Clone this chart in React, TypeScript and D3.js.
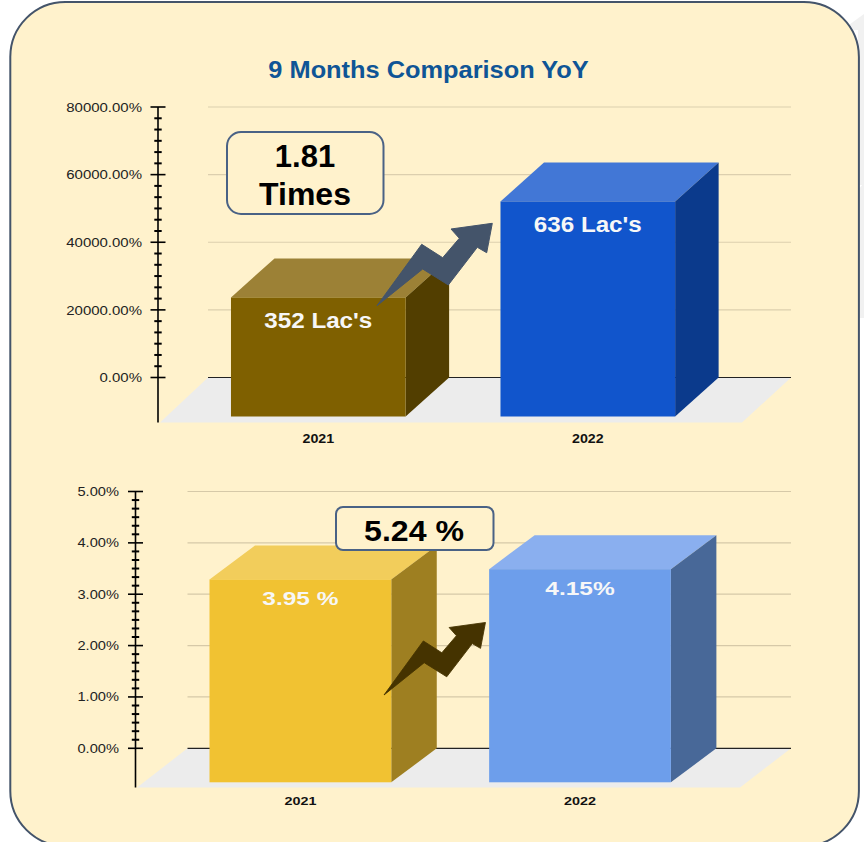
import React from "react";
import * as d3 from "d3";

const FONT = "'Liberation Sans', Arial, sans-serif";

const titleText = "9 Months Comparison YoY";
const categories = ["2021", "2022"];

const amountValues = [35200, 63600];
const amountLabels = ["352 Lac's", "636 Lac's"];
const amountMax = 80000;

const yieldValues = [3.95, 4.15];
const yieldLabels = ["3.95 %", "4.15%"];
const yieldMax = 5;

const amountFront = ["#7f6000", "#1155cc"];
const amountTop = ["#9c8136", "#4277d6"];
const amountSide = ["#523e00", "#0b3a8c"];

const yieldFront = ["#f1c232", "#6d9eeb"];
const yieldTop = ["#f2cd5b", "#8aafef"];
const yieldSide = ["#9e7f21", "#486898"];

// Trend arrow outline, in its own local units (tail at the origin)
const arrowShape: [number, number][] = [
  [0, 0], [44.7, -61.4], [65.7, -48], [82.3, -67.4], [74, -76.7], [115.3, -82.4],
  [109.7, -53], [100.3, -58.4], [71.3, -20.7], [45.7, -36.7],
];

type ChartProps = {
  values: number[]; labels: string[]; max: number;
  front: string[]; top: string[]; side: string[];
  axisX: number; axisBottom: number; zeroY: number; topY: number;
  gridLeft: number; gridRight: number; floorLeft: number; floorRight: number;
  bandLeft: number; bandRight: number; inner: number; depthX: number; depthY: number;
  tickLabelX: number; tickFont: number; tickScale: number; catY: number; catFont: number; catScale: number;
  labelFont: number; labelScale: number; labelOffset: number[]; gridColor: string;
};

function sx(x: number, y: number, scale: number) {
  return { transform: `translate(${x},${y}) scale(${scale},1)` };
}

function makeX(p: ChartProps) {
  return d3.scaleBand<string>().domain(categories).range([p.bandLeft, p.bandRight]).paddingInner(p.inner).paddingOuter(0.25);
}

function Chart3D(p: ChartProps) {
  const y = d3.scaleLinear().domain([0, p.max]).range([p.zeroY, p.topY]);
  const x = makeX(p);
  const majors = y.ticks(p.max === 5 ? 5 : 4);
  const minors: number[] = [];
  majors.slice(0, -1).forEach((m, i) => {
    d3.range(1, 6).forEach((k) => minors.push(m + ((majors[i + 1] - m) * k) / 6));
  });
  const fmt = d3.format(".2f");
  const poly = d3.line();
  return (
    <g>
      {majors.map((m) => m !== 0 && (
        <line key={m} x1={p.gridLeft} x2={p.gridRight} y1={y(m)} y2={y(m)} stroke={p.gridColor} strokeWidth={1.2} />
      ))}
      <path
        d={poly([
          [p.gridLeft, p.zeroY], [p.gridRight, p.zeroY],
          [p.floorRight, p.axisBottom], [p.floorLeft, p.axisBottom],
        ])!}
        fill="#ececec"
      />
      <line x1={p.gridLeft} x2={p.gridRight} y1={p.zeroY} y2={p.zeroY} stroke="#222" strokeWidth={1.2} />
      <line x1={p.axisX} x2={p.axisX} y1={y(p.max)} y2={p.axisBottom} stroke="#000" strokeWidth={1.6} />
      {majors.map((m) => (
        <g key={m}>
          <line x1={p.axisX - 7.5} x2={p.axisX + 7.5} y1={y(m)} y2={y(m)} stroke="#000" strokeWidth={1.6} />
          <text {...sx(p.tickLabelX, y(m) + p.tickFont * 0.36, p.tickScale)} textAnchor="end" fontFamily={FONT} fontSize={p.tickFont} fill="#222">
            {fmt(m)}%
          </text>
        </g>
      ))}
      {minors.map((m) => (
        <line key={m} x1={p.axisX - 3.7} x2={p.axisX + 3.7} y1={y(m)} y2={y(m)} stroke="#000" strokeWidth={2} />
      ))}
      {categories.map((c, i) => {
        const x0 = x(c)!;
        const x1 = x0 + x.bandwidth();
        const fy = y(p.values[i]) + p.depthY;
        const by = p.zeroY + p.depthY;
        return (
          <g key={c}>
            <path d={poly([[x0, fy], [x0 + p.depthX, fy - p.depthY], [x1 + p.depthX, fy - p.depthY], [x1, fy]])!} fill={p.top[i]} />
            <path d={poly([[x1, fy], [x1 + p.depthX, fy - p.depthY], [x1 + p.depthX, by - p.depthY], [x1, by]])!} fill={p.side[i]} />
            <rect x={x0} y={fy} width={x.bandwidth()} height={by - fy} fill={p.front[i]} />
          </g>
        );
      })}
      {categories.map((c) => (
        <text key={c} {...sx(x(c)! + x.bandwidth() / 2, p.catY, p.catScale)} textAnchor="middle" fontFamily={FONT} fontWeight="bold" fontSize={p.catFont} fill="#111">
          {c}
        </text>
      ))}
    </g>
  );
}

function BarLabels(p: ChartProps) {
  const y = d3.scaleLinear().domain([0, p.max]).range([p.zeroY, p.topY]);
  const x = makeX(p);
  return (
    <g>
      {categories.map((c, i) => (
        <text key={c} {...sx(x(c)! + x.bandwidth() / 2, y(p.values[i]) + p.depthY + p.labelOffset[i], p.labelScale)} textAnchor="middle" fontFamily={FONT} fontWeight="bold" fontSize={p.labelFont} fill="#f7f7f7">
          {p.labels[i]}
        </text>
      ))}
    </g>
  );
}

function Arrow({ tx, ty, k, fill }: { tx: number; ty: number; k: number; fill: string }) {
  const d = d3.line()(arrowShape)! + "Z";
  return <path d={d} transform={`translate(${tx},${ty}) scale(${k})`} fill={fill} stroke={fill} strokeWidth={1} strokeLinejoin="round" />;
}

const upper: ChartProps = {
  values: amountValues, labels: amountLabels, max: amountMax,
  front: amountFront, top: amountTop, side: amountSide,
  axisX: 158, axisBottom: 422.5, zeroY: 377.5, topY: 107,
  gridLeft: 208, gridRight: 791, floorLeft: 160, floorRight: 742,
  bandLeft: 163.6, bandRight: 742.5, inner: 0.352, depthX: 43.5, depthY: 39,
  tickLabelX: 142, tickFont: 13.5, tickScale: 1.11, catY: 442.5, catFont: 12.5, catScale: 1.14,
  labelFont: 22, labelScale: 1.1, labelOffset: [31, 31], gridColor: "#dccfae",
};

const lower: ChartProps = {
  values: yieldValues, labels: yieldLabels, max: yieldMax,
  front: yieldFront, top: yieldTop, side: yieldSide,
  axisX: 135.5, axisBottom: 787.5, zeroY: 748.3, topY: 491.5,
  gridLeft: 187.5, gridRight: 791, floorLeft: 137, floorRight: 740,
  bandLeft: 139.6, bandRight: 740.8, inner: 0.35, depthX: 45.5, depthY: 34,
  tickLabelX: 119, tickFont: 12, tickScale: 1.22, catY: 804.5, catFont: 11.5, catScale: 1.25,
  labelFont: 18, labelScale: 1.36, labelOffset: [26, 26], gridColor: "#d6c9a8",
};

export default function App() {
  return (
    <svg width={864} height={842} viewBox="0 0 864 842" style={{ position: "absolute", left: 0, top: 0, display: "block" }}>
      <rect width={864} height={842} fill="#ffffff" />
      <path d={d3.line()([[842, 30], [864, 14], [864, 185], [858, 185], [858, 30]])!} fill="#f1f1f1" />
      <path d={d3.line()([[858, 190], [864, 183], [864, 318], [858, 318]])!} fill="#f1f1f1" />
      <rect x={10.3} y={2} width={848.6} height={844} rx={55} ry={55} fill="#fff2cc" stroke="#44546a" strokeWidth={2} />
      <text {...sx(428.5, 78, 1.08)} textAnchor="middle" fontFamily={FONT} fontWeight="bold" fontSize={23.5} fill="#0f5596">{titleText}</text>

      <Chart3D {...upper} />
      <Chart3D {...lower} />

      <rect x={227} y={132} width={156.5} height={82} rx={14} fill="#fff2cc" stroke="#4a6285" strokeWidth={2} />
      <text x={305} y={167} textAnchor="middle" fontFamily={FONT} fontWeight="bold" fontSize={31} fill="#000">1.81</text>
      <text x={305} y={204.5} textAnchor="middle" fontFamily={FONT} fontWeight="bold" fontSize={32} fill="#000">Times</text>

      <rect x={336} y={507} width={157.5} height={43} rx={7} fill="#fff2cc" stroke="#4a6285" strokeWidth={2} />
      <text {...sx(414, 540.5, 1.07)} textAnchor="middle" fontFamily={FONT} fontWeight="bold" fontSize={30} fill="#000">5.24 %</text>

      <Arrow tx={377} ty={305.7} k={1} fill="#44546a" />
      <Arrow tx={384} ty={695} k={0.88} fill="#453300" />

      <BarLabels {...upper} />
      <BarLabels {...lower} />
    </svg>
  );
}
